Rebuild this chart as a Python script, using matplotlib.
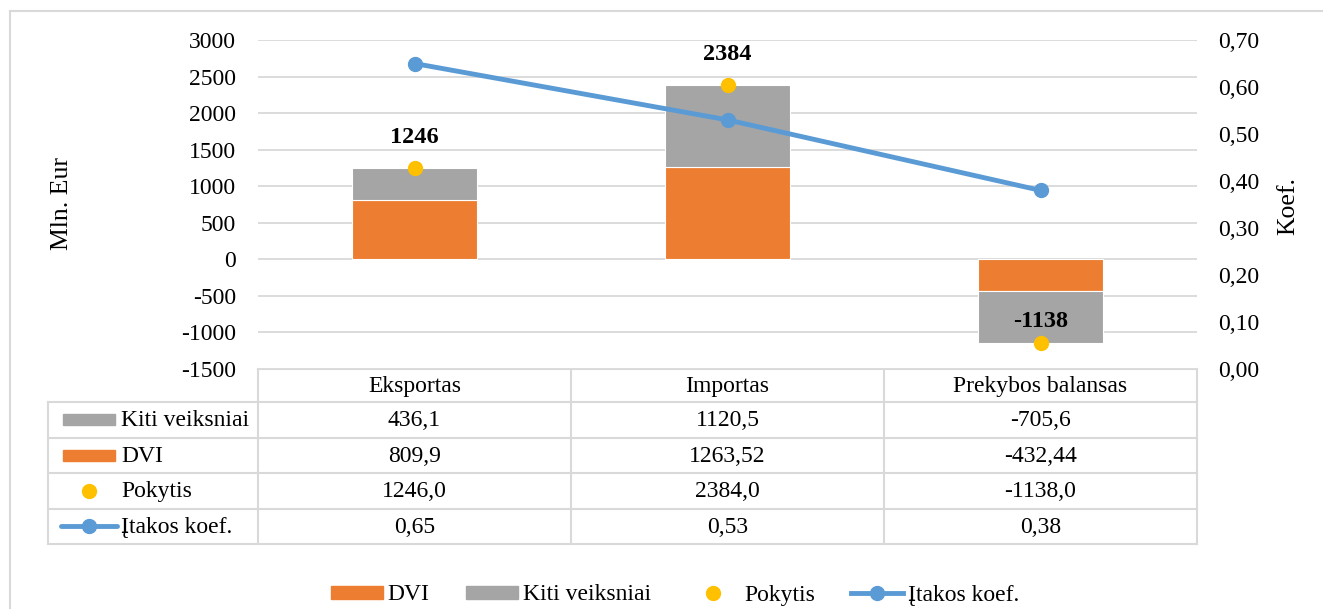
import matplotlib
matplotlib.use("Agg")
import matplotlib.pyplot as plt
from matplotlib.lines import Line2D
from matplotlib.patches import Patch, Rectangle
from matplotlib.ticker import FuncFormatter
import numpy as np

plt.rcParams["font.family"] = ["Liberation Serif", "DejaVu Serif"]
plt.rcParams["font.size"] = 17
plt.rcParams["axes.unicode_minus"] = False

# data
categories = ["Eksportas", "Importas", "Prekybos balansas"]
dvi = [809.9, 1263.52, -432.44]
kiti = [436.1, 1120.5, -705.6]
pokytis = [1246.0, 2384.0, -1138.0]
koef = [0.65, 0.53, 0.38]
left_ticks = [-1500, -1000, -500, 0, 500, 1000, 1500, 2000, 2500, 3000]
right_ticks = [0.0, 0.1, 0.2, 0.3, 0.4, 0.5, 0.6, 0.7]

ORANGE = "#ED7D31"
GRAY = "#A5A5A5"
YELLOW = "#FFC000"
BLUE = "#5B9BD5"
GRID = "#D9D9D9"

W, H = 1323, 609
PL, PR, PT, PB = 258, 1197, 40, 369  # plot area in px


def comma(v, fmt):
  return format(v, fmt).replace(".", ",")


fig = plt.figure(figsize=(W / 100, H / 100), dpi=100)
ax = fig.add_axes([PL / W, 1 - PB / H, (PR - PL) / W, (PB - PT) / H])
x = np.arange(len(categories))
ax.bar(x, dvi, width=0.4, color=ORANGE, edgecolor="white", lw=0.8, zorder=2)
ax.bar(x, kiti, width=0.4, bottom=dvi, color=GRAY, edgecolor="white", lw=0.8, zorder=2)
ax.plot(x, pokytis, ls="none", marker="o", ms=10, color=YELLOW, zorder=4)
label_dy = [22, 22, 15]
for xi, v, dy in zip(x, pokytis, label_dy):
  ax.annotate(f"{v:.0f}", (xi, v), xytext=(0, dy), textcoords="offset points",
              ha="center", va="center", fontsize=17.5, fontweight="bold", zorder=5)
ax.set_xlim(-0.5, len(categories) - 0.5)
ax.set_ylim(left_ticks[0], left_ticks[-1])
ax.set_yticks(left_ticks)
ax.set_xticks([])
ax.grid(axis="y", color=GRID, lw=1.3, zorder=0)
ax.set_axisbelow(True)
ax.tick_params(axis="y", length=0, pad=16, labelsize=17)
for s in ax.spines.values():
  s.set_visible(False)

ax2 = ax.twinx()
ax2.plot(x, koef, color=BLUE, lw=3.5, marker="o", ms=10, zorder=6)
ax2.set_ylim(right_ticks[0], right_ticks[-1])
ax2.set_yticks(right_ticks)
ax2.yaxis.set_major_formatter(FuncFormatter(lambda v, _: comma(v, ".2f")))
ax2.tick_params(axis="y", length=0, pad=15, labelsize=17)
for s in ax2.spines.values():
  s.set_visible(False)

fig.text(62 / W, 1 - 204 / H, "Mln. Eur", rotation=90, ha="center", va="center", fontsize=18.5)
fig.text(1288 / W, 1 - 206 / H, "Koef.", rotation=90, ha="center", va="center", fontsize=18.5)

# data table drawn in pixel coordinates
tab = fig.add_axes([0, 0, 1, 1], zorder=-1)
tab.set_xlim(0, W)
tab.set_ylim(H, 0)
tab.axis("off")
col_edges = np.linspace(PL, PR, len(categories) + 1)
col_mid = (col_edges[:-1] + col_edges[1:]) / 2
row_edges = [PB, 402, 437.5, 473, 508.5, 544]
label_left = 48
lk = dict(color=GRID, lw=1.5)
tab.plot([PL, PR], [PB, PB], **lk)
for y in row_edges[1:]:
  tab.plot([label_left, PR], [y, y], **lk)
tab.plot([label_left, label_left], [row_edges[1], row_edges[-1]], **lk)
for xe in col_edges:
  tab.plot([xe, xe], [row_edges[0], row_edges[-1]], **lk)

for cx, name in zip(col_mid, categories):
  tab.text(cx, (row_edges[0] + row_edges[1]) / 2 + 1, name, ha="center", va="center")

rows = [
  ("Kiti veiksniai", [comma(v, "g") for v in kiti], "patch", GRAY),
  ("DVI", [comma(v, "g") for v in dvi], "patch", ORANGE),
  ("Pokytis", [comma(v, ".1f") for v in pokytis], "dot", YELLOW),
  ("Įtakos koef.", [comma(v, ".2f") for v in koef], "line", BLUE),
]
for i, (name, vals, kind, col) in enumerate(rows):
  yc = (row_edges[i + 1] + row_edges[i + 2]) / 2
  if kind == "patch":
    tab.add_patch(Rectangle((63, yc - 5.5), 52, 11, color=col))
  elif kind == "dot":
    tab.plot([89], [yc], marker="o", ms=10, color=col, ls="none")
  else:
    tab.plot([61, 117], [yc, yc], color=col, lw=3.5, solid_capstyle="round")
    tab.plot([89], [yc], marker="o", ms=10, color=col, ls="none")
  tab.text(121, yc + 1, name, ha="left", va="center")
  for cx, t in zip(col_mid, vals):
    tab.text(cx, yc + 1, t, ha="center", va="center")

# chart frame
tab.plot([10, 10], [11, H + 5], color=GRID, lw=1.5, clip_on=False)
tab.plot([10, W + 5], [11, 11], color=GRID, lw=1.5, clip_on=False)

handles = [
  Patch(color=ORANGE, label="DVI"),
  Patch(color=GRAY, label="Kiti veiksniai"),
  Line2D([], [], ls="none", marker="o", ms=10, color=YELLOW, label="Pokytis"),
  Line2D([], [], color=BLUE, lw=3.5, marker="o", ms=10, label="Įtakos koef."),
]
fig.legend(handles=handles, loc="center", bbox_to_anchor=(675 / W, 1 - 595 / H), ncol=4,
           frameon=False, handlelength=2.2, handleheight=0.47, handletextpad=0.2,
           columnspacing=1.55, fontsize=17)

fig.savefig("out.png", dpi=100)
